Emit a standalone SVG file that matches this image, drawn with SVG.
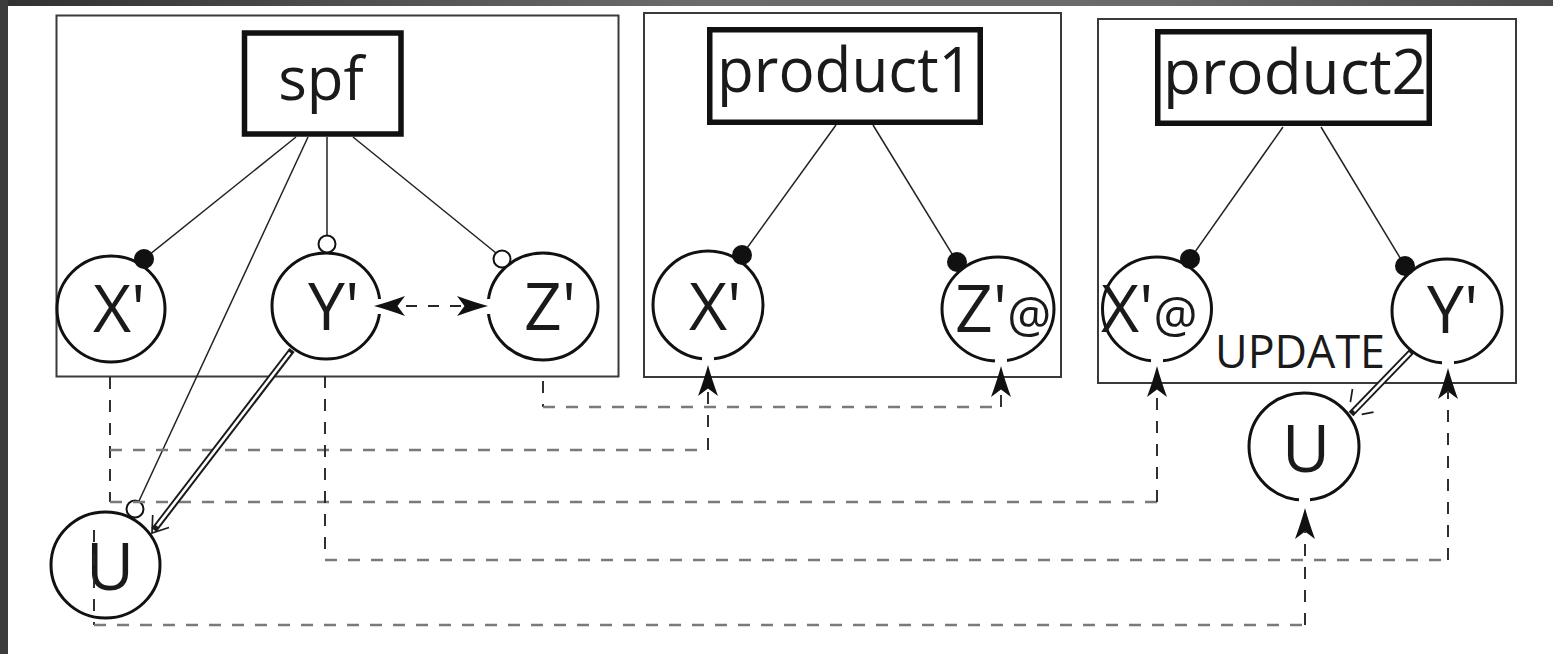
<svg xmlns="http://www.w3.org/2000/svg" xmlns:xlink="http://www.w3.org/1999/xlink" width="1553" height="654" viewBox="0 0 1553 654">
  <style>
    .panel { fill: #fff; stroke: #3a3a3a; stroke-width: 2; }
    .box { fill: #fff; stroke: #111; stroke-width: 5.5; }
    .node { fill: #fff; stroke: #111; stroke-width: 3; }
    .lbl { font-family: "Open Sans", "Noto Sans", "Liberation Sans", sans-serif; fill: #1a1a1a; }
    .big { font-size: 66px; }
    .at { font-size: 49px; }
    .title { font-size: 62px; text-anchor: middle; }
    .edge { stroke: #222; stroke-width: 1.5; fill: none; }
    .dh { stroke: #7a7a7a; stroke-width: 2.7; stroke-dasharray: 12 11; fill: none; }
    .dv { stroke: #262626; stroke-width: 1.9; stroke-dasharray: 12 11; fill: none; }
    .dot { fill: #111; }
    .ring { fill: #fff; stroke: #111; stroke-width: 2; }
    .gap { fill: #fff; }
    .dbl-o { stroke: #1a1a1a; stroke-width: 6.5; fill: none; }
    .dbl-i { stroke: #fff; stroke-width: 2.6; fill: none; }
    .barb { stroke: #1a1a1a; stroke-width: 1.7; fill: none; }
    .head { fill: #111; }
  </style>
  <defs>
    <linearGradient id="topband" x1="0" y1="0" x2="1" y2="0">
      <stop offset="0" stop-color="#313131"/>
      <stop offset="0.45" stop-color="#6c6c6c"/>
      <stop offset="0.75" stop-color="#6a6a6a"/>
      <stop offset="1" stop-color="#4c4c4c"/>
    </linearGradient>
    <!-- filled arrowhead, tip at origin, pointing along +x -->
    <path id="ah" d="M0,0 Q-14,-3.8 -31,-10 L-23.5,0 L-31,10 Q-14,3.8 0,0 Z"/>
  </defs>

  <!-- page background and dark frame -->
  <rect x="0" y="0" width="1553" height="654" fill="#fff"/>
  <rect x="0" y="0" width="1553" height="6" fill="url(#topband)"/>
  <rect x="0" y="0" width="8" height="654" fill="#3c3c3c"/>

  <!-- containers -->
  <g id="panels">
    <rect class="panel" x="56.5" y="15.5" width="562" height="361"/>
    <rect class="panel" x="644" y="13" width="417" height="364"/>
    <rect class="panel" x="1098" y="19" width="418" height="364"/>
  </g>

  <!-- aggregate boxes -->
  <g id="spf">
    <rect class="box" x="244.5" y="33" width="156.5" height="101"/>
    <text class="lbl title" x="321" y="100" style="font-size:60px">spf</text>
  </g>
  <g id="product1">
    <rect class="box" x="709.75" y="29.75" width="270.5" height="92.5"/>
    <text class="lbl title" x="845" y="92" textLength="256" lengthAdjust="spacingAndGlyphs">product1</text>
  </g>
  <g id="product2">
    <rect class="box" x="1157.75" y="31.75" width="271.5" height="91.5"/>
    <text class="lbl title" x="1295" y="94" textLength="264" lengthAdjust="spacingAndGlyphs">product2</text>
  </g>

  <!-- variable nodes -->
  <g id="spf-x">
    <ellipse class="node" cx="111" cy="309" rx="54" ry="53"/>
    <text class="lbl big" x="93" y="332">X'</text>
  </g>
  <g id="spf-y">
    <ellipse class="node" cx="326" cy="306" rx="54" ry="53"/>
    <text class="lbl big" x="308" y="330">Y'</text>
  </g>
  <g id="spf-z">
    <ellipse class="node" cx="543" cy="306.5" rx="55" ry="53.5"/>
    <text class="lbl big" x="524" y="330">Z'</text>
  </g>
  <g id="spf-u">
    <ellipse class="node" cx="105.5" cy="565" rx="54.5" ry="53"/>
    <text class="lbl big" x="86" y="590">U</text>
  </g>
  <g id="p1-x">
    <ellipse class="node" cx="708" cy="305" rx="55" ry="54"/>
    <text class="lbl big" x="689" y="330">X'</text>
  </g>
  <g id="p1-z">
    <ellipse class="node" cx="998" cy="309" rx="56" ry="52"/>
    <text class="lbl big" x="955" y="332">Z'<tspan class="at">@</tspan></text>
  </g>
  <g id="p2-x">
    <ellipse class="node" cx="1157" cy="309" rx="54.5" ry="52"/>
    <text class="lbl big" x="1101" y="332">X'<tspan class="at">@</tspan></text>
  </g>
  <g id="p2-y">
    <ellipse class="node" cx="1447" cy="311" rx="55" ry="52"/>
    <text class="lbl big" x="1427" y="333">Y'</text>
  </g>
  <g id="p2-u">
    <ellipse class="node" cx="1304" cy="446.5" rx="55" ry="53.5"/>
    <text class="lbl big" x="1282" y="472">U</text>
  </g>
  <g id="update-label">
    <text class="lbl" x="1215" y="368" style="font-size:45px" textLength="170" lengthAdjust="spacingAndGlyphs">UPDATE</text>
  </g>

  <g id="connectors">
    <!-- tree edges from aggregates to their members -->
    <line class="edge" x1="296" y1="137" x2="144" y2="259"/>
    <line class="edge" x1="308" y1="137" x2="139" y2="501"/>
    <line class="edge" x1="327" y1="137" x2="327" y2="235"/>
    <line class="edge" x1="353" y1="137" x2="496" y2="253"/>
    <line class="edge" x1="836" y1="125" x2="742" y2="255"/>
    <line class="edge" x1="873" y1="125" x2="957" y2="262"/>
    <line class="edge" x1="1283" y1="127" x2="1190" y2="259"/>
    <line class="edge" x1="1321" y1="127" x2="1405" y2="266"/>

    <!-- end decorations of tree edges -->
    <circle class="dot" cx="144" cy="259" r="10"/>
    <circle class="ring" cx="327" cy="244" r="8.5"/>
    <circle class="ring" cx="502" cy="259" r="8.5"/>
    <circle class="ring" cx="135" cy="509" r="8.5"/>
    <circle class="dot" cx="742" cy="255" r="10"/>
    <circle class="dot" cx="957" cy="262" r="10"/>
    <circle class="dot" cx="1190" cy="259" r="10"/>
    <circle class="dot" cx="1405" cy="266" r="10"/>

    <!-- openings in node outlines where arrows enter -->
    <rect class="gap" x="702" y="354" width="12" height="10"/>
    <rect class="gap" x="995" y="355" width="12" height="11"/>
    <rect class="gap" x="1151" y="355" width="12" height="11"/>
    <rect class="gap" x="1442" y="357" width="12" height="11"/>
    <rect class="gap" x="1299" y="494" width="11" height="11"/>
    <rect class="gap" x="374" y="299" width="12" height="15"/>
    <rect class="gap" x="482" y="299" width="12" height="15"/>

    <!-- dashed binding links: X' -> product1.X' and product2.X'@ -->
    <line class="dv" x1="110" y1="377" x2="110" y2="502"/>
    <line class="dh" x1="110" y1="450" x2="708" y2="450"/>
    <line class="dv" x1="708" y1="450" x2="708" y2="390"/>
    <line class="dh" x1="110" y1="502" x2="1157" y2="502"/>
    <line class="dv" x1="1157" y1="502" x2="1157" y2="390"/>
    <!-- Y' -> product2.Y' -->
    <line class="dv" x1="325" y1="376" x2="325" y2="560"/>
    <line class="dh" x1="325" y1="560" x2="1448" y2="560"/>
    <line class="dv" x1="1448" y1="560" x2="1448" y2="392"/>
    <!-- Z' -> product1.Z'@ -->
    <line class="dv" x1="543" y1="381" x2="543" y2="407"/>
    <line class="dh" x1="543" y1="407" x2="1001" y2="407"/>
    <line class="dv" x1="1001" y1="407" x2="1001" y2="390"/>
    <!-- U -> product2.U -->
    <line class="dv" x1="94" y1="530" x2="94" y2="625"/>
    <line class="dh" x1="94" y1="625" x2="1305" y2="625"/>
    <line class="dv" x1="1305" y1="625" x2="1305" y2="532"/>
    <!-- Y' <-> Z' -->
    <line class="dv" x1="400" y1="306" x2="466" y2="306" style="stroke-dasharray:11 11; stroke-dashoffset:-6"/>

    <!-- arrowheads -->
    <use xlink:href="#ah" href="#ah" class="head" transform="translate(708,365) rotate(-90)"/>
    <use xlink:href="#ah" href="#ah" class="head" transform="translate(1001,366) rotate(-90)"/>
    <use xlink:href="#ah" href="#ah" class="head" transform="translate(1157,366) rotate(-90)"/>
    <use xlink:href="#ah" href="#ah" class="head" transform="translate(1448,368) rotate(-90)"/>
    <use xlink:href="#ah" href="#ah" class="head" transform="translate(1305,508) rotate(-90)"/>
    <use xlink:href="#ah" href="#ah" class="head" transform="translate(374,306) rotate(180)"/>
    <use xlink:href="#ah" href="#ah" class="head" transform="translate(488,306)"/>

    <!-- update links (double line with open head) -->
    <path class="dbl-o" d="M292,350 L154,530"/>
    <path class="dbl-i" d="M290,352.5 L157,526"/>
    <path class="barb" d="M152.7,515 L152,533 L169,527.5"/>
    <path class="dbl-o" d="M1412,351 L1351,414"/>
    <path class="dbl-i" d="M1410,353 L1354,411"/>
    <line class="barb" x1="1348" y1="417" x2="1352.5" y2="389" style="stroke-dasharray:0 15 14 40"/>
    <line class="barb" x1="1348" y1="417" x2="1375.5" y2="411.7" style="stroke-dasharray:0 14 12 40"/>
  </g>
</svg>
